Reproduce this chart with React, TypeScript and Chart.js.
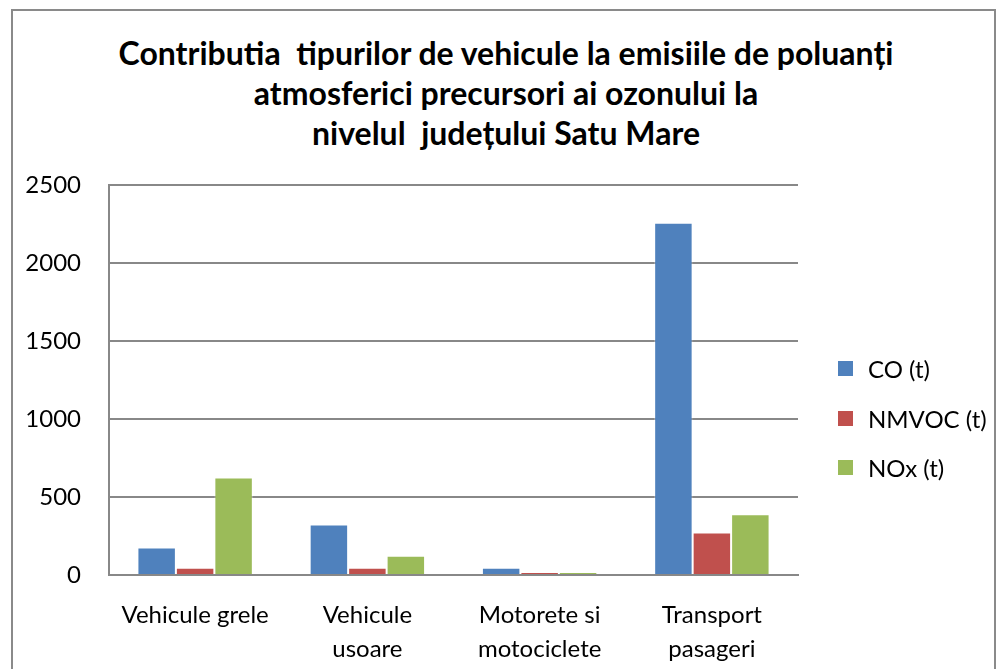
import React, { useEffect, useRef } from "react";
import { Chart, registerables } from "chart.js";

Chart.register(...registerables);

const categories: (string | string[])[] = [
  "Vehicule grele",
  ["Vehicule", "usoare"],
  ["Motorete si", "motociclete"],
  ["Transport", "pasageri"],
];
const seriesNames = ["CO (t)", "NMVOC (t)", "NOx (t)"];
const coValues = [176, 323, 47, 2258];
const nmvocValues = [47, 47, 19, 272];
const noxValues = [625, 124, 20, 389];
const seriesColors = ["#4F81BD", "#C0504D", "#9BBB59"];
const yTicks = [0, 500, 1000, 1500, 2000, 2500];
const titleLines = [
  "Contributia  tipurilor de vehicule la emisiile de poluanți",
  "atmosferici precursori ai ozonului la",
  "nivelul  județului Satu Mare",
];

const FONT = "Lato, 'Open Sans', sans-serif";

export default function App() {
  const ref = useRef<HTMLCanvasElement | null>(null);

  useEffect(() => {
    if (!ref.current) return;
    const values = [coValues, nmvocValues, noxValues];
    const chart = new Chart(ref.current, {
      type: "bar",
      data: {
        labels: categories,
        datasets: seriesNames.map((n, i) => ({
          label: n,
          data: values[i],
          backgroundColor: seriesColors[i],
          borderColor: "rgba(255,255,255,0.35)",
          borderWidth: 1,
          categoryPercentage: 0.67,
          barPercentage: 1,
        })),
      },
      options: {
        animation: false,
        responsive: false,
        maintainAspectRatio: false,
        layout: { padding: { top: 185, right: 202, left: 0, bottom: 0 } },
        plugins: {
          legend: { display: false },
          title: { display: false },
          tooltip: { enabled: false },
        },
        scales: {
          x: {
            grid: { display: false, drawTicks: false },
            border: { display: true, color: "#888", width: 2 },
            ticks: {
              color: "#000",
              font: { family: FONT, size: 24, lineHeight: 1.42 },
              padding: 23,
              maxRotation: 0,
              autoSkip: false,
            },
            afterFit: (s: any) => {
              s.height = 94;
            },
          },
          y: {
            min: 0,
            max: 2500,
            afterBuildTicks: (s: any) => {
              s.ticks = yTicks.map((v) => ({ value: v }));
            },
            grid: { color: "#888", lineWidth: 2, drawTicks: false },
            border: { display: true, color: "#888", width: 2 },
            ticks: {
              color: "#000",
              font: { family: FONT, size: 24 },
              padding: 28,
              callback: (v: any) => String(v),
            },
            afterFit: (s: any) => {
              s.width = 109;
            },
          },
        },
      },
    });
    return () => chart.destroy();
  }, []);

  return (
    <div style={{ position: "absolute", left: 0, top: 0, width: 1000, height: 669, overflow: "hidden", background: "#fff" }}>
      <div
        style={{
          position: "absolute",
          left: 11,
          top: 9,
          width: 985,
          height: 700,
          border: "2px solid #8a8a8a",
          boxSizing: "border-box",
        }}
      />
      <div
        style={{
          position: "absolute",
          left: 0,
          top: 33,
          width: 1012,
          textAlign: "center",
          fontFamily: FONT,
          fontWeight: "bold",
          fontSize: 32,
          lineHeight: "40px",
          color: "#000",
          whiteSpace: "pre",
        }}
      >
        {titleLines.map((l, i) => (
          <div key={i}>{l}</div>
        ))}
      </div>
      <canvas ref={ref} width={1000} height={669} style={{ position: "absolute", left: 0, top: 0 }} />
      <div style={{ position: "absolute", left: 838, top: 344, fontFamily: FONT, fontSize: 24, color: "#000" }}>
        {seriesNames.map((n, i) => (
          <div key={i} style={{ display: "flex", alignItems: "center", height: 49.5 }}>
            <div style={{ width: 15, height: 15, background: seriesColors[i], marginRight: 15 }} />
            <span>{n}</span>
          </div>
        ))}
      </div>
    </div>
  );
}
